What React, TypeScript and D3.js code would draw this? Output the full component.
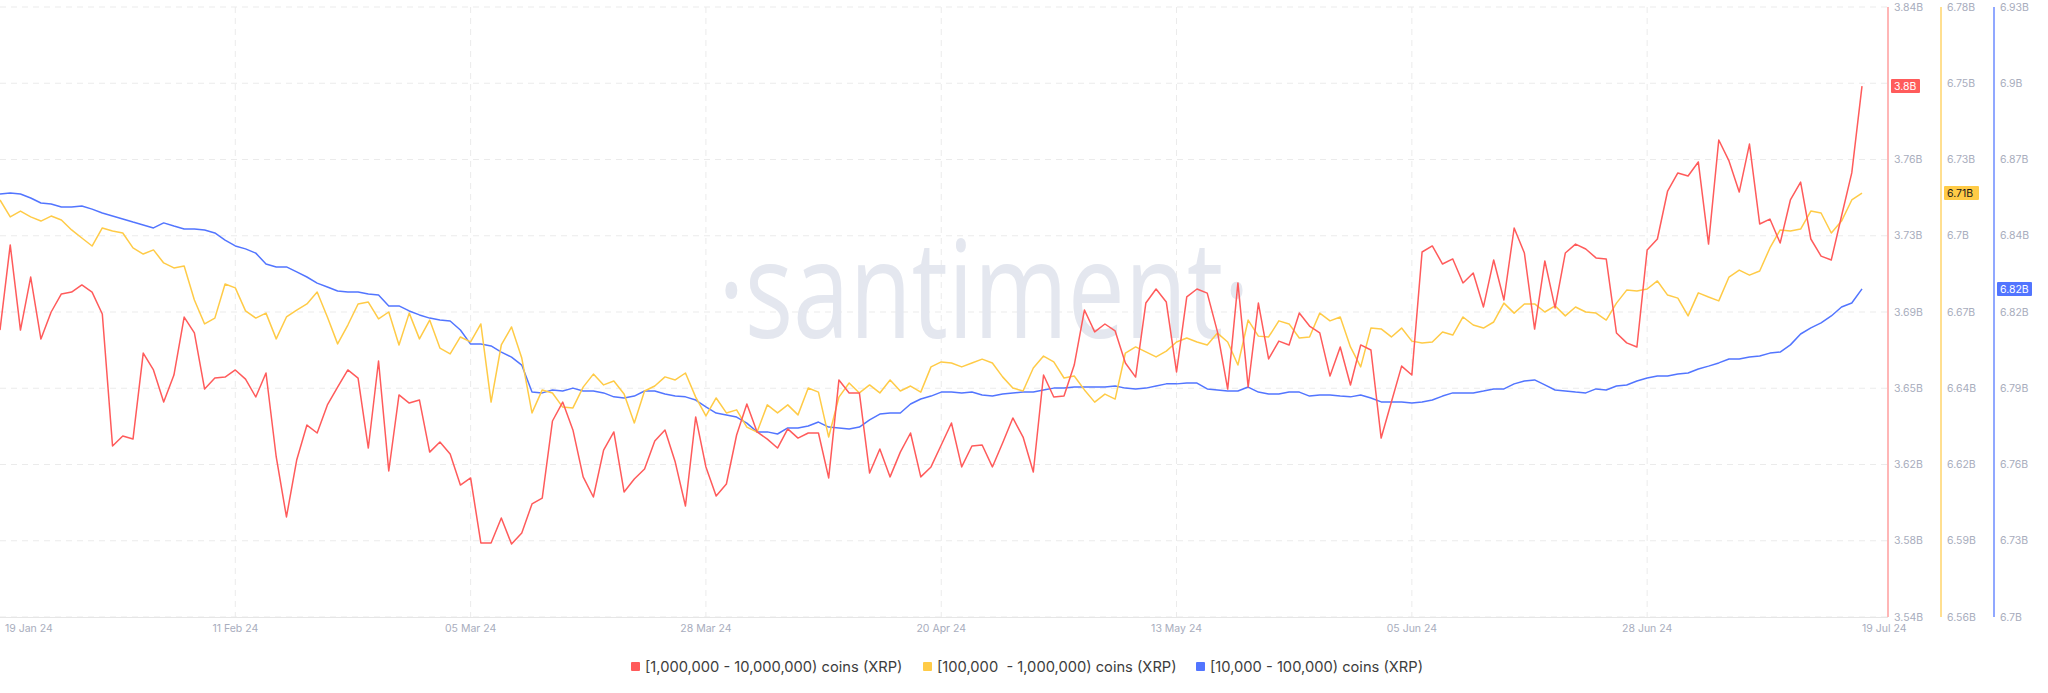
import React from "react";
import * as d3 from "d3";

const START_DATE = "2024-01-19";

const redSeries = [
  3.6811, 3.7230, 3.6811, 3.7072, 3.6767, 3.6900, 3.6989, 3.6998, 3.7033, 3.6998,
  3.6890, 3.6241, 3.6290, 3.6275, 3.6698, 3.6615, 3.6457, 3.6590, 3.6875, 3.6797,
  3.6521, 3.6575, 3.6580, 3.6615, 3.6570, 3.6482, 3.6600, 3.6187, 3.5892, 3.6172,
  3.6344, 3.6305, 3.6443, 3.6531, 3.6615, 3.6575, 3.6231, 3.6659, 3.6118, 3.6492,
  3.6452, 3.6467, 3.6211, 3.6261, 3.6202, 3.6049, 3.6084, 3.5764, 3.5764, 3.5887,
  3.5759, 3.5813, 3.5956, 3.5985, 3.6364, 3.6457, 3.6320, 3.6089, 3.5990, 3.6221,
  3.6310, 3.6015, 3.6079, 3.6128, 3.6266, 3.6320, 3.6162, 3.5946, 3.6384, 3.6138,
  3.5995, 3.6054, 3.6295, 3.6448, 3.6310, 3.6275, 3.6231, 3.6325, 3.6280, 3.6305,
  3.6305, 3.6084, 3.6566, 3.6502, 3.6502, 3.6108, 3.6226, 3.6089, 3.6211, 3.6305,
  3.6089, 3.6138, 3.6246, 3.6354, 3.6138, 3.6241, 3.6246, 3.6138, 3.6256, 3.6379,
  3.6285, 3.6113, 3.6590, 3.6482, 3.6487, 3.6639, 3.6910, 3.6802, 3.6841, 3.6807,
  3.6649, 3.6580, 3.6944, 3.7013, 3.6949, 3.6605, 3.6974, 3.7013, 3.6993, 3.6802,
  3.6521, 3.7043, 3.6531, 3.6944, 3.6669, 3.6757, 3.6738, 3.6895, 3.6831, 3.6797,
  3.6585, 3.6728, 3.6541, 3.6738, 3.6713, 3.6280, 3.6457, 3.6634, 3.6590, 3.7195,
  3.7225, 3.7136, 3.7161, 3.7043, 3.7092, 3.6925, 3.7156, 3.6959, 3.7313, 3.7190,
  3.6816, 3.7151, 3.6920, 3.7190, 3.7234, 3.7210, 3.7166, 3.7161, 3.6797, 3.6748,
  3.6728, 3.7205, 3.7259, 3.7495, 3.7584, 3.7569, 3.7638, 3.7234, 3.7746, 3.7643,
  3.7490, 3.7726, 3.7333, 3.7357, 3.7239, 3.7451, 3.7539, 3.7259, 3.7175, 3.7156,
  3.7372, 3.7584, 3.8011,
];

const yellowSeries = [
  6.7104, 6.7043, 6.7064, 6.7043, 6.7028, 6.7046, 6.7032, 6.6996, 6.6967, 6.6938,
  6.7003, 6.6992, 6.6985, 6.6931, 6.6909, 6.6924, 6.6877, 6.6859, 6.6866, 6.6743,
  6.6657, 6.6678, 6.6801, 6.6787, 6.6704, 6.6678, 6.6696, 6.6603, 6.6682, 6.6707,
  6.6729, 6.6772, 6.6682, 6.6585, 6.6653, 6.6729, 6.6736, 6.6675, 6.6700, 6.6581,
  6.6696, 6.6603, 6.6671, 6.6570, 6.6549, 6.6610, 6.6592, 6.6657, 6.6375, 6.6581,
  6.6646, 6.6534, 6.6336, 6.6419, 6.6408, 6.6357, 6.6354, 6.6429, 6.6476, 6.6437,
  6.6451, 6.6404, 6.6300, 6.6415, 6.6433, 6.6466, 6.6455, 6.6480, 6.6393, 6.6325,
  6.6390, 6.6336, 6.6347, 6.6285, 6.6267, 6.6365, 6.6336, 6.6365, 6.6329, 6.6426,
  6.6411, 6.6249, 6.6393, 6.6444, 6.6408, 6.6437, 6.6408, 6.6455, 6.6415, 6.6433,
  6.6411, 6.6502, 6.6520, 6.6516, 6.6502, 6.6516, 6.6530, 6.6516, 6.6466, 6.6426,
  6.6415, 6.6498, 6.6541, 6.6520, 6.6462, 6.6469, 6.6419, 6.6375, 6.6404, 6.6386,
  6.6552, 6.6574, 6.6556, 6.6538, 6.6559, 6.6592, 6.6606, 6.6592, 6.6581, 6.6624,
  6.6592, 6.6509, 6.6671, 6.6613, 6.6610, 6.6668, 6.6657, 6.6606, 6.6610, 6.6696,
  6.6668, 6.6682, 6.6574, 6.6502, 6.6642, 6.6639, 6.6610, 6.6642, 6.6595, 6.6588,
  6.6592, 6.6628, 6.6617, 6.6682, 6.6653, 6.6642, 6.6664, 6.6732, 6.6696, 6.6729,
  6.6729, 6.6700, 6.6722, 6.6686, 6.6718, 6.6700, 6.6696, 6.6671, 6.6732, 6.6779,
  6.6776, 6.6783, 6.6812, 6.6761, 6.6750, 6.6686, 6.6769, 6.6754, 6.6740, 6.6826,
  6.6851, 6.6833, 6.6848, 6.6931, 6.6996, 6.6992, 6.6999, 6.7064, 6.7057, 6.6985,
  6.7028, 6.7104, 6.7129,
];

const blueSeries = [
  6.8595, 6.8599, 6.8595, 6.8580, 6.8561, 6.8557, 6.8546, 6.8546, 6.8550, 6.8538,
  6.8523, 6.8512, 6.8501, 6.8489, 6.8478, 6.8467, 6.8486, 6.8474, 6.8463, 6.8463,
  6.8459, 6.8448, 6.8421, 6.8399, 6.8388, 6.8372, 6.8331, 6.8320, 6.8320, 6.8301,
  6.8282, 6.8259, 6.8244, 6.8229, 6.8225, 6.8225, 6.8218, 6.8214, 6.8173, 6.8173,
  6.8154, 6.8139, 6.8127, 6.8120, 6.8116, 6.8082, 6.8029, 6.8029, 6.8022, 6.7999,
  6.7980, 6.7950, 6.7848, 6.7845, 6.7856, 6.7852, 6.7863, 6.7852, 6.7852, 6.7845,
  6.7830, 6.7826, 6.7833, 6.7852, 6.7852, 6.7841, 6.7833, 6.7830, 6.7818, 6.7792,
  6.7769, 6.7762, 6.7754, 6.7731, 6.7698, 6.7698, 6.7690, 6.7713, 6.7713, 6.7720,
  6.7735, 6.7716, 6.7713, 6.7709, 6.7716, 6.7743, 6.7765, 6.7769, 6.7769, 6.7803,
  6.7822, 6.7833, 6.7848, 6.7848, 6.7845, 6.7848, 6.7837, 6.7833, 6.7841, 6.7845,
  6.7848, 6.7848, 6.7856, 6.7863, 6.7863, 6.7867, 6.7867, 6.7867, 6.7867, 6.7871,
  6.7863, 6.7860, 6.7863, 6.7871, 6.7879, 6.7879, 6.7882, 6.7882, 6.7860, 6.7856,
  6.7852, 6.7852, 6.7867, 6.7848, 6.7841, 6.7841, 6.7848, 6.7848, 6.7833, 6.7837,
  6.7837, 6.7833, 6.7830, 6.7837, 6.7826, 6.7811, 6.7811, 6.7811, 6.7807, 6.7811,
  6.7818, 6.7833, 6.7845, 6.7845, 6.7845, 6.7852, 6.7860, 6.7860, 6.7879, 6.7890,
  6.7894, 6.7875, 6.7856, 6.7852, 6.7848, 6.7845, 6.7860, 6.7856, 6.7871, 6.7875,
  6.7890, 6.7901, 6.7909, 6.7909, 6.7916, 6.7920, 6.7935, 6.7946, 6.7958, 6.7973,
  6.7973, 6.7980, 6.7984, 6.7995, 6.7999, 6.8026, 6.8067, 6.8090, 6.8109, 6.8135,
  6.8169, 6.8184, 6.8237,
];

const redDomain = [3.54, 3.84];
const yellowDomain = [6.56, 6.78];
const blueDomain = [6.7, 6.93];

const redTickLabels = ["3.54B", "3.58B", "3.62B", "3.65B", "3.69B", "3.73B", "3.76B", "3.8B", "3.84B"];
const yellowTickLabels = ["6.56B", "6.59B", "6.62B", "6.64B", "6.67B", "6.7B", "6.73B", "6.75B", "6.78B"];
const blueTickLabels = ["6.7B", "6.73B", "6.76B", "6.79B", "6.82B", "6.84B", "6.87B", "6.9B", "6.93B"];

const xTickDates = ["2024-01-19", "2024-02-11", "2024-03-05", "2024-03-28", "2024-04-20", "2024-05-13", "2024-06-05", "2024-06-28", "2024-07-19"];
const xTickLabels = ["19 Jan 24", "11 Feb 24", "05 Mar 24", "28 Mar 24", "20 Apr 24", "13 May 24", "05 Jun 24", "28 Jun 24", "19 Jul 24"];

const legendLabels = [
  "[1,000,000 - 10,000,000) coins (XRP)",
  "[100,000  - 1,000,000) coins (XRP)",
  "[10,000 - 100,000) coins (XRP)",
];

const RED = "#ff5b5b";
const YELLOW = "#ffcb47";
const BLUE = "#5275ff";

const W = 2048;
const H = 693;
const PLOT_LEFT = 0;
const PLOT_RIGHT = 1862;
const PLOT_TOP = 7;
const PLOT_BOTTOM = 617;
const RED_AXIS_X = 1888;
const YELLOW_AXIS_X = 1941;
const BLUE_AXIS_X = 1994;

const FONT = "Inter, 'Noto Sans', sans-serif";
const AXIS_COLOR = "#a8adbd";

export default function App() {
  const parse = d3.utcParse("%Y-%m-%d");
  const start = parse(START_DATE) as Date;
  const dates = redSeries.map((_, i) => d3.utcDay.offset(start, i));
  const x = d3
    .scaleUtc()
    .domain([dates[0], dates[dates.length - 1]])
    .range([PLOT_LEFT, PLOT_RIGHT]);

  const yRed = d3.scaleLinear().domain(redDomain).range([PLOT_BOTTOM, PLOT_TOP]);
  const yYellow = d3.scaleLinear().domain(yellowDomain).range([PLOT_BOTTOM, PLOT_TOP]);
  const yBlue = d3.scaleLinear().domain(blueDomain).range([PLOT_BOTTOM, PLOT_TOP]);

  const tickVals = (dom: number[]) => d3.range(9).map((k) => dom[0] + (k * (dom[1] - dom[0])) / 8);
  const redTicks = tickVals(redDomain);
  const yellowTicks = tickVals(yellowDomain);
  const blueTicks = tickVals(blueDomain);

  const mkLine = (y: d3.ScaleLinear<number, number>) =>
    d3
      .line<number>()
      .x((_, i) => x(dates[i]))
      .y((d) => y(d));

  const fmt = d3.format(".3~r");

  const axes = [
    { xPos: RED_AXIS_X, color: RED, ticks: redTicks, labels: redTickLabels, scale: yRed, last: redSeries[redSeries.length - 1], badgeText: "#ffffff", lineOpacity: 0.6 },
    { xPos: YELLOW_AXIS_X, color: YELLOW, ticks: yellowTicks, labels: yellowTickLabels, scale: yYellow, last: yellowSeries[yellowSeries.length - 1], badgeText: "#1a1a1a", lineOpacity: 0.8 },
    { xPos: BLUE_AXIS_X, color: BLUE, ticks: blueTicks, labels: blueTickLabels, scale: yBlue, last: blueSeries[blueSeries.length - 1], badgeText: "#ffffff", lineOpacity: 0.85 },
  ];

  const legendItems = [
    { x: 631, color: RED, label: legendLabels[0] },
    { x: 923, color: YELLOW, label: legendLabels[1] },
    { x: 1196, color: BLUE, label: legendLabels[2] },
  ];

  return (
    <svg
      width={W}
      height={H}
      style={{ position: "absolute", left: 0, top: 0, background: "#ffffff" }}
      fontFamily={FONT}
    >
      <rect x={0} y={0} width={W} height={H} fill="#ffffff" />

      {/* horizontal gridlines */}
      {redTicks.map((t, i) => (
        <line
          key={"hg" + i}
          x1={PLOT_LEFT}
          x2={RED_AXIS_X}
          y1={yRed(t)}
          y2={yRed(t)}
          stroke="#ebebeb"
          strokeDasharray="6 5"
        />
      ))}
      {/* vertical gridlines */}
      {xTickDates.slice(1, -1).map((d, i) => (
        <line
          key={"vg" + i}
          x1={x(parse(d) as Date)}
          x2={x(parse(d) as Date)}
          y1={PLOT_TOP}
          y2={PLOT_BOTTOM}
          stroke="#ebebeb"
          strokeDasharray="6 5"
        />
      ))}

      {/* watermark */}
      <text
        x={718}
        y={338}
        fontSize={136}
        fontFamily="'Open Sans', sans-serif"
        fill="#e4e7ef"
        textLength={532}
        lengthAdjust="spacingAndGlyphs"
      >
        ·santiment·
      </text>

      {/* bottom axis line */}
      <line x1={PLOT_LEFT} x2={RED_AXIS_X} y1={PLOT_BOTTOM + 0.5} y2={PLOT_BOTTOM + 0.5} stroke="#e6e6e6" />

      {/* x tick labels */}
      {xTickDates.map((d, i) => {
        const px = x(parse(d) as Date);
        const first = i === 0;
        const last = i === xTickDates.length - 1;
        return (
          <text
            key={"xl" + i}
            x={first ? px + 5 : px}
            y={632}
            fontSize={10.5}
            fill={AXIS_COLOR}
            textAnchor={first || last ? "start" : "middle"}
          >
            {xTickLabels[i]}
          </text>
        );
      })}

      {/* series lines */}
      <path d={mkLine(yBlue)(blueSeries) || ""} fill="none" stroke={BLUE} strokeWidth={1.5} strokeLinejoin="round" />
      <path d={mkLine(yYellow)(yellowSeries) || ""} fill="none" stroke={YELLOW} strokeWidth={1.5} strokeLinejoin="round" />
      <path d={mkLine(yRed)(redSeries) || ""} fill="none" stroke={RED} strokeWidth={1.5} strokeLinejoin="round" />

      {/* right axes */}
      {axes.map((a, ai) => {
        const by = a.scale(a.last);
        const txt = fmt(a.last) + "B";
        const bw = txt.length * 6 + 5;
        return (
          <g key={"ax" + ai}>
            <line x1={a.xPos} x2={a.xPos} y1={PLOT_TOP} y2={PLOT_BOTTOM} stroke={a.color} strokeOpacity={a.lineOpacity} strokeWidth={1.5} />
            {a.ticks.map((t, ti) => (
              <text
                key={"t" + ti}
                x={a.xPos + 6}
                y={a.scale(t)}
                dy="0.35em"
                fontSize={10.5}
                fill={AXIS_COLOR}
              >
                {a.labels[ti]}
              </text>
            ))}
            <rect x={a.xPos + 3} y={by - 7} width={bw} height={14} fill={a.color} rx={1} />
            <text x={a.xPos + 6} y={by} dy="0.35em" fontSize={10.5} fill={a.badgeText}>
              {txt}
            </text>
          </g>
        );
      })}

      {/* legend */}
      {legendItems.map((l, i) => (
        <g key={"lg" + i}>
          <rect x={l.x} y={662} width={9} height={9} fill={l.color} rx={1} />
          <text x={l.x + 14} y={671.5} fontSize={14.7} fill="#3d3d3d" style={{ whiteSpace: "pre" }}>
            {l.label}
          </text>
        </g>
      ))}
    </svg>
  );
}
